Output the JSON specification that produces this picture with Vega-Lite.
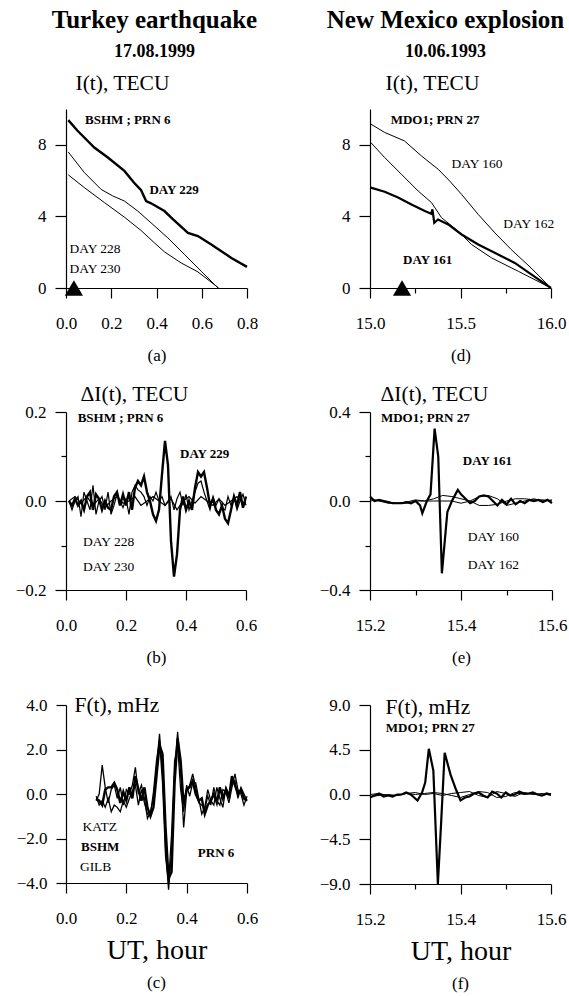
{
"$schema": "https://vega.github.io/schema/vega-lite/v6.json",
"background": "white",
"padding": {"left": 15, "top": 8, "right": 2, "bottom": 2},
"config": {
  "font": "Liberation Serif",
  "view": {"stroke": null},
  "axis": {"grid": false, "domainColor": "black", "tickColor": "black", "labelColor": "black", "titleColor": "black", "labelFont": "Liberation Serif", "labelFontSize": 17, "titleFont": "Liberation Serif", "titleFontSize": 21.5, "titleFontWeight": "normal", "domainWidth": 1.2, "tickWidth": 1.2, "labelFlush": false, "labelOverlap": false},
  "axisX": {"labelPadding": 17, "titlePadding": 10, "labelOverlap": false},
  "axisY": {"labelPadding": 9, "titleAngle": 0, "titleAlign": "left", "titleBaseline": "alphabetic", "labelOverlap": false},
  "text": {"font": "Liberation Serif", "color": "black"},
  "title": {"font": "Liberation Serif", "color": "black", "subtitleColor": "black", "subtitleFont": "Liberation Serif"}
},
"datasets": {
  "a": [
    {"x":0.01,"y":9.38,"s":"229"},{"x":0.05,"y":8.8,"s":"229"},{"x":0.125,"y":7.85,"s":"229"},{"x":0.185,"y":7.29,"s":"229"},{"x":0.258,"y":6.54,"s":"229"},{"x":0.30,"y":5.89,"s":"229"},{"x":0.332,"y":5.46,"s":"229"},{"x":0.354,"y":4.86,"s":"229"},{"x":0.376,"y":4.73,"s":"229"},{"x":0.435,"y":4.30,"s":"229"},{"x":0.465,"y":3.93,"s":"229"},{"x":0.539,"y":3.08,"s":"229"},{"x":0.583,"y":2.90,"s":"229"},{"x":0.642,"y":2.43,"s":"229"},{"x":0.731,"y":1.68,"s":"229"},{"x":0.80,"y":1.18,"s":"229"},
    {"x":0.01,"y":7.6,"s":"228"},{"x":0.081,"y":6.45,"s":"228"},{"x":0.155,"y":5.51,"s":"228"},{"x":0.207,"y":5.14,"s":"228"},{"x":0.258,"y":4.86,"s":"228"},{"x":0.317,"y":4.30,"s":"228"},{"x":0.376,"y":3.64,"s":"228"},{"x":0.45,"y":2.80,"s":"228"},{"x":0.524,"y":1.87,"s":"228"},{"x":0.598,"y":0.93,"s":"228"},{"x":0.672,"y":0.0,"s":"228"},
    {"x":0.01,"y":6.32,"s":"230"},{"x":0.081,"y":5.61,"s":"230"},{"x":0.17,"y":4.77,"s":"230"},{"x":0.258,"y":3.96,"s":"230"},{"x":0.332,"y":3.21,"s":"230"},{"x":0.391,"y":2.52,"s":"230"},{"x":0.435,"y":2.02,"s":"230"},{"x":0.509,"y":1.40,"s":"230"},{"x":0.583,"y":0.90,"s":"230"},{"x":0.675,"y":0.0,"s":"230"}
  ],
  "d": [
    {"x":15.004,"y":9.16,"s":"160"},{"x":15.081,"y":8.69,"s":"160"},{"x":15.19,"y":8.22,"s":"160"},{"x":15.284,"y":7.38,"s":"160"},{"x":15.376,"y":6.64,"s":"160"},{"x":15.44,"y":5.98,"s":"160"},{"x":15.506,"y":5.23,"s":"160"},{"x":15.598,"y":4.11,"s":"160"},{"x":15.69,"y":3.08,"s":"160"},{"x":15.78,"y":2.15,"s":"160"},{"x":15.89,"y":1.12,"s":"160"},{"x":16.0,"y":0,"s":"160"},
    {"x":15.004,"y":8.13,"s":"162"},{"x":15.081,"y":7.29,"s":"162"},{"x":15.173,"y":6.36,"s":"162"},{"x":15.266,"y":5.42,"s":"162"},{"x":15.34,"y":4.77,"s":"162"},{"x":15.395,"y":3.93,"s":"162"},{"x":15.487,"y":3.18,"s":"162"},{"x":15.561,"y":2.43,"s":"162"},{"x":15.672,"y":1.68,"s":"162"},{"x":15.82,"y":0.93,"s":"162"},{"x":16.0,"y":0,"s":"162"},
    {"x":15.004,"y":5.61,"s":"161"},{"x":15.081,"y":5.38,"s":"161"},{"x":15.155,"y":5.05,"s":"161"},{"x":15.229,"y":4.67,"s":"161"},{"x":15.303,"y":4.30,"s":"161"},{"x":15.338,"y":4.15,"s":"161"},{"x":15.345,"y":4.39,"s":"161"},{"x":15.355,"y":3.64,"s":"161"},{"x":15.376,"y":3.83,"s":"161"},{"x":15.432,"y":3.55,"s":"161"},{"x":15.506,"y":2.99,"s":"161"},{"x":15.598,"y":2.43,"s":"161"},{"x":15.708,"y":1.87,"s":"161"},{"x":15.80,"y":1.40,"s":"161"},{"x":15.893,"y":0.75,"s":"161"},{"x":16.0,"y":0,"s":"161"}
  ],
  "b": [
    {"x":0.01,"y":0,"s":"229"},{"x":0.02,"y":-0.01,"s":"229"},{"x":0.03,"y":0.005,"s":"229"},{"x":0.04,"y":-0.01,"s":"229"},{"x":0.05,"y":0,"s":"229"},{"x":0.06,"y":-0.02,"s":"229"},{"x":0.07,"y":0.01,"s":"229"},{"x":0.08,"y":0.02,"s":"229"},{"x":0.09,"y":-0.02,"s":"229"},{"x":0.10,"y":0.015,"s":"229"},
    {"x":0.11,"y":0.005,"s":"229"},{"x":0.12,"y":-0.02,"s":"229"},{"x":0.13,"y":0,"s":"229"},{"x":0.14,"y":-0.015,"s":"229"},{"x":0.15,"y":-0.02,"s":"229"},{"x":0.16,"y":0.01,"s":"229"},{"x":0.17,"y":0.02,"s":"229"},{"x":0.18,"y":-0.01,"s":"229"},{"x":0.19,"y":0.015,"s":"229"},{"x":0.20,"y":-0.01,"s":"229"},
    {"x":0.21,"y":0.02,"s":"229"},{"x":0.22,"y":-0.02,"s":"229"},{"x":0.23,"y":0.03,"s":"229"},{"x":0.24,"y":0.045,"s":"229"},{"x":0.25,"y":0.035,"s":"229"},{"x":0.26,"y":0.055,"s":"229"},{"x":0.27,"y":0.02,"s":"229"},{"x":0.28,"y":0,"s":"229"},{"x":0.29,"y":-0.03,"s":"229"},{"x":0.30,"y":-0.045,"s":"229"},
    {"x":0.31,"y":-0.02,"s":"229"},{"x":0.32,"y":0.06,"s":"229"},{"x":0.33,"y":0.135,"s":"229"},{"x":0.34,"y":0.08,"s":"229"},{"x":0.35,"y":-0.09,"s":"229"},{"x":0.36,"y":-0.17,"s":"229"},{"x":0.37,"y":-0.12,"s":"229"},{"x":0.38,"y":-0.02,"s":"229"},{"x":0.39,"y":0.01,"s":"229"},{"x":0.40,"y":-0.02,"s":"229"},
    {"x":0.41,"y":0,"s":"229"},{"x":0.42,"y":-0.02,"s":"229"},{"x":0.43,"y":0.03,"s":"229"},{"x":0.44,"y":0.065,"s":"229"},{"x":0.45,"y":0.055,"s":"229"},{"x":0.46,"y":0.065,"s":"229"},{"x":0.47,"y":0.03,"s":"229"},{"x":0.48,"y":-0.01,"s":"229"},{"x":0.49,"y":0.005,"s":"229"},{"x":0.50,"y":-0.02,"s":"229"},
    {"x":0.51,"y":-0.03,"s":"229"},{"x":0.52,"y":-0.01,"s":"229"},{"x":0.53,"y":-0.04,"s":"229"},{"x":0.54,"y":-0.05,"s":"229"},{"x":0.55,"y":-0.02,"s":"229"},{"x":0.56,"y":0.01,"s":"229"},{"x":0.57,"y":-0.01,"s":"229"},{"x":0.58,"y":0.02,"s":"229"},{"x":0.59,"y":-0.015,"s":"229"},{"x":0.60,"y":0.01,"s":"229"},
    {"x":0.01,"y":0,"s":"228"},{"x":0.02,"y":-0.02,"s":"228"},{"x":0.03,"y":0,"s":"228"},{"x":0.04,"y":0.01,"s":"228"},{"x":0.05,"y":-0.035,"s":"228"},{"x":0.06,"y":0.02,"s":"228"},{"x":0.07,"y":0,"s":"228"},{"x":0.08,"y":-0.02,"s":"228"},{"x":0.09,"y":0.035,"s":"228"},{"x":0.10,"y":-0.03,"s":"228"},
    {"x":0.11,"y":0,"s":"228"},{"x":0.12,"y":0.01,"s":"228"},{"x":0.13,"y":-0.02,"s":"228"},{"x":0.14,"y":0.02,"s":"228"},{"x":0.15,"y":-0.03,"s":"228"},{"x":0.16,"y":-0.01,"s":"228"},{"x":0.17,"y":0.015,"s":"228"},{"x":0.18,"y":0,"s":"228"},{"x":0.19,"y":-0.015,"s":"228"},{"x":0.20,"y":0.005,"s":"228"},
    {"x":0.21,"y":-0.03,"s":"228"},{"x":0.22,"y":0.02,"s":"228"},{"x":0.23,"y":0.035,"s":"228"},{"x":0.24,"y":0.025,"s":"228"},{"x":0.25,"y":0.02,"s":"228"},{"x":0.26,"y":0.01,"s":"228"},{"x":0.27,"y":-0.01,"s":"228"},{"x":0.28,"y":0.01,"s":"228"},{"x":0.29,"y":0,"s":"228"},{"x":0.30,"y":0.02,"s":"228"},
    {"x":0.31,"y":0,"s":"228"},{"x":0.32,"y":0.01,"s":"228"},{"x":0.33,"y":-0.01,"s":"228"},{"x":0.34,"y":0,"s":"228"},{"x":0.35,"y":0.01,"s":"228"},{"x":0.36,"y":-0.02,"s":"228"},{"x":0.37,"y":0.005,"s":"228"},{"x":0.38,"y":0.02,"s":"228"},{"x":0.39,"y":-0.01,"s":"228"},{"x":0.40,"y":0.015,"s":"228"},
    {"x":0.41,"y":-0.02,"s":"228"},{"x":0.42,"y":0,"s":"228"},{"x":0.43,"y":0.02,"s":"228"},{"x":0.44,"y":0.04,"s":"228"},{"x":0.45,"y":0.045,"s":"228"},{"x":0.46,"y":0.02,"s":"228"},{"x":0.47,"y":0,"s":"228"},{"x":0.48,"y":-0.02,"s":"228"},{"x":0.49,"y":0.01,"s":"228"},{"x":0.50,"y":-0.01,"s":"228"},
    {"x":0.51,"y":0.005,"s":"228"},{"x":0.52,"y":-0.015,"s":"228"},{"x":0.53,"y":-0.02,"s":"228"},{"x":0.54,"y":0.01,"s":"228"},{"x":0.55,"y":-0.01,"s":"228"},{"x":0.56,"y":0.01,"s":"228"},{"x":0.57,"y":-0.02,"s":"228"},{"x":0.58,"y":0,"s":"228"},{"x":0.59,"y":0.015,"s":"228"},{"x":0.60,"y":-0.01,"s":"228"},
    {"x":0.01,"y":0,"s":"230"},{"x":0.03,"y":0.01,"s":"230"},{"x":0.05,"y":-0.005,"s":"230"},{"x":0.07,"y":0.01,"s":"230"},{"x":0.09,"y":-0.01,"s":"230"},{"x":0.11,"y":0.005,"s":"230"},{"x":0.13,"y":-0.015,"s":"230"},{"x":0.15,"y":0,"s":"230"},{"x":0.17,"y":0.01,"s":"230"},{"x":0.19,"y":-0.005,"s":"230"},
    {"x":0.21,"y":0,"s":"230"},{"x":0.23,"y":0.01,"s":"230"},{"x":0.25,"y":-0.01,"s":"230"},{"x":0.27,"y":0,"s":"230"},{"x":0.29,"y":0.01,"s":"230"},{"x":0.31,"y":0,"s":"230"},{"x":0.33,"y":-0.01,"s":"230"},{"x":0.35,"y":0.005,"s":"230"},{"x":0.37,"y":-0.02,"s":"230"},{"x":0.39,"y":0,"s":"230"},
    {"x":0.41,"y":0.01,"s":"230"},{"x":0.43,"y":-0.005,"s":"230"},{"x":0.45,"y":0.01,"s":"230"},{"x":0.47,"y":0,"s":"230"},{"x":0.49,"y":-0.01,"s":"230"},{"x":0.51,"y":0.005,"s":"230"},{"x":0.53,"y":-0.01,"s":"230"},{"x":0.55,"y":0,"s":"230"},{"x":0.57,"y":0.01,"s":"230"},{"x":0.59,"y":-0.005,"s":"230"}
  ],
  "e": [
    {"x":15.20,"y":0.02,"s":"161"},{"x":15.21,"y":0,"s":"161"},{"x":15.22,"y":0.005,"s":"161"},{"x":15.23,"y":0,"s":"161"},{"x":15.24,"y":-0.005,"s":"161"},{"x":15.25,"y":-0.01,"s":"161"},{"x":15.26,"y":-0.01,"s":"161"},{"x":15.27,"y":-0.01,"s":"161"},{"x":15.28,"y":-0.005,"s":"161"},{"x":15.29,"y":-0.01,"s":"161"},{"x":15.30,"y":0,"s":"161"},{"x":15.31,"y":-0.02,"s":"161"},{"x":15.315,"y":-0.055,"s":"161"},{"x":15.325,"y":0,"s":"161"},{"x":15.333,"y":0.03,"s":"161"},{"x":15.342,"y":0.325,"s":"161"},{"x":15.35,"y":0.2,"s":"161"},{"x":15.358,"y":-0.325,"s":"161"},{"x":15.37,"y":-0.05,"s":"161"},{"x":15.38,"y":0,"s":"161"},{"x":15.393,"y":0.05,"s":"161"},{"x":15.40,"y":0.03,"s":"161"},{"x":15.41,"y":0.01,"s":"161"},{"x":15.42,"y":-0.01,"s":"161"},{"x":15.43,"y":0,"s":"161"},{"x":15.44,"y":0.02,"s":"161"},{"x":15.45,"y":0.025,"s":"161"},{"x":15.46,"y":0.02,"s":"161"},{"x":15.47,"y":0,"s":"161"},{"x":15.48,"y":-0.02,"s":"161"},{"x":15.49,"y":0.005,"s":"161"},{"x":15.50,"y":-0.015,"s":"161"},{"x":15.51,"y":0.01,"s":"161"},{"x":15.52,"y":-0.015,"s":"161"},{"x":15.53,"y":0,"s":"161"},{"x":15.54,"y":-0.01,"s":"161"},{"x":15.55,"y":0.005,"s":"161"},{"x":15.56,"y":0,"s":"161"},{"x":15.57,"y":0.005,"s":"161"},{"x":15.58,"y":-0.005,"s":"161"},{"x":15.59,"y":0.005,"s":"161"},{"x":15.60,"y":-0.01,"s":"161"},
    {"x":15.20,"y":0,"s":"160"},{"x":15.22,"y":0.005,"s":"160"},{"x":15.24,"y":-0.005,"s":"160"},{"x":15.26,"y":-0.01,"s":"160"},{"x":15.28,"y":-0.01,"s":"160"},{"x":15.30,"y":0,"s":"160"},{"x":15.32,"y":0,"s":"160"},{"x":15.34,"y":0.01,"s":"160"},{"x":15.36,"y":0.025,"s":"160"},{"x":15.38,"y":0.02,"s":"160"},{"x":15.40,"y":0.01,"s":"160"},{"x":15.42,"y":0,"s":"160"},{"x":15.44,"y":-0.02,"s":"160"},{"x":15.46,"y":-0.02,"s":"160"},{"x":15.48,"y":-0.015,"s":"160"},{"x":15.50,"y":0,"s":"160"},{"x":15.52,"y":0.01,"s":"160"},{"x":15.54,"y":0.01,"s":"160"},{"x":15.56,"y":0.005,"s":"160"},{"x":15.58,"y":0.005,"s":"160"},{"x":15.60,"y":0,"s":"160"},
    {"x":15.20,"y":0.01,"s":"162"},{"x":15.22,"y":0,"s":"162"},{"x":15.24,"y":-0.01,"s":"162"},{"x":15.26,"y":-0.01,"s":"162"},{"x":15.28,"y":-0.005,"s":"162"},{"x":15.30,"y":0.005,"s":"162"},{"x":15.32,"y":0,"s":"162"},{"x":15.34,"y":0,"s":"162"},{"x":15.36,"y":0,"s":"162"},{"x":15.38,"y":0,"s":"162"},{"x":15.40,"y":-0.01,"s":"162"},{"x":15.42,"y":0,"s":"162"},{"x":15.44,"y":0.02,"s":"162"},{"x":15.46,"y":0.025,"s":"162"},{"x":15.48,"y":0.01,"s":"162"},{"x":15.50,"y":-0.02,"s":"162"},{"x":15.52,"y":-0.01,"s":"162"},{"x":15.54,"y":0,"s":"162"},{"x":15.56,"y":0.01,"s":"162"},{"x":15.58,"y":0,"s":"162"},{"x":15.60,"y":0.005,"s":"162"}
  ],
  "c": [
    {"x":0.10,"y":-0.2,"s":"BSHM"},{"x":0.11,"y":-0.3,"s":"BSHM"},{"x":0.12,"y":-0.5,"s":"BSHM"},{"x":0.13,"y":0.2,"s":"BSHM"},{"x":0.14,"y":0.3,"s":"BSHM"},{"x":0.15,"y":0.3,"s":"BSHM"},{"x":0.16,"y":0.5,"s":"BSHM"},{"x":0.17,"y":0.2,"s":"BSHM"},{"x":0.18,"y":-0.4,"s":"BSHM"},{"x":0.19,"y":0.1,"s":"BSHM"},
    {"x":0.20,"y":-0.3,"s":"BSHM"},{"x":0.21,"y":0.3,"s":"BSHM"},{"x":0.22,"y":-0.2,"s":"BSHM"},{"x":0.23,"y":0.8,"s":"BSHM"},{"x":0.24,"y":0.2,"s":"BSHM"},{"x":0.25,"y":-0.3,"s":"BSHM"},{"x":0.26,"y":0.3,"s":"BSHM"},{"x":0.27,"y":-0.6,"s":"BSHM"},{"x":0.28,"y":-1.0,"s":"BSHM"},{"x":0.29,"y":-0.6,"s":"BSHM"},
    {"x":0.30,"y":0.8,"s":"BSHM"},{"x":0.31,"y":2.2,"s":"BSHM"},{"x":0.32,"y":1.8,"s":"BSHM"},{"x":0.33,"y":-1.5,"s":"BSHM"},{"x":0.34,"y":-3.8,"s":"BSHM"},{"x":0.35,"y":-3.5,"s":"BSHM"},{"x":0.36,"y":0.5,"s":"BSHM"},{"x":0.37,"y":2.5,"s":"BSHM"},{"x":0.38,"y":1.5,"s":"BSHM"},{"x":0.39,"y":-0.5,"s":"BSHM"},
    {"x":0.40,"y":0.2,"s":"BSHM"},{"x":0.41,"y":0.3,"s":"BSHM"},{"x":0.42,"y":0.6,"s":"BSHM"},{"x":0.43,"y":0.0,"s":"BSHM"},{"x":0.44,"y":-0.3,"s":"BSHM"},{"x":0.45,"y":-0.2,"s":"BSHM"},{"x":0.46,"y":-0.9,"s":"BSHM"},{"x":0.47,"y":-0.5,"s":"BSHM"},{"x":0.48,"y":-0.3,"s":"BSHM"},{"x":0.49,"y":0.0,"s":"BSHM"},
    {"x":0.50,"y":-0.4,"s":"BSHM"},{"x":0.51,"y":0.3,"s":"BSHM"},{"x":0.52,"y":-0.2,"s":"BSHM"},{"x":0.53,"y":0.2,"s":"BSHM"},{"x":0.54,"y":-0.2,"s":"BSHM"},{"x":0.55,"y":0.8,"s":"BSHM"},{"x":0.56,"y":0.4,"s":"BSHM"},{"x":0.57,"y":0.0,"s":"BSHM"},{"x":0.58,"y":0.2,"s":"BSHM"},{"x":0.59,"y":-0.2,"s":"BSHM"},{"x":0.60,"y":-0.3,"s":"BSHM"},
    {"x":0.10,"y":-0.3,"s":"KATZ"},{"x":0.11,"y":0.0,"s":"KATZ"},{"x":0.12,"y":1.3,"s":"KATZ"},{"x":0.13,"y":0.3,"s":"KATZ"},{"x":0.14,"y":-0.4,"s":"KATZ"},{"x":0.15,"y":0.2,"s":"KATZ"},{"x":0.16,"y":0.4,"s":"KATZ"},{"x":0.17,"y":-0.2,"s":"KATZ"},{"x":0.18,"y":0.3,"s":"KATZ"},{"x":0.19,"y":-0.5,"s":"KATZ"},
    {"x":0.20,"y":0.2,"s":"KATZ"},{"x":0.21,"y":0.0,"s":"KATZ"},{"x":0.22,"y":0.4,"s":"KATZ"},{"x":0.23,"y":1.2,"s":"KATZ"},{"x":0.24,"y":0.0,"s":"KATZ"},{"x":0.25,"y":0.4,"s":"KATZ"},{"x":0.26,"y":-0.2,"s":"KATZ"},{"x":0.27,"y":-1.1,"s":"KATZ"},{"x":0.28,"y":-0.8,"s":"KATZ"},{"x":0.29,"y":-0.2,"s":"KATZ"},
    {"x":0.30,"y":1.2,"s":"KATZ"},{"x":0.31,"y":2.7,"s":"KATZ"},{"x":0.32,"y":1.0,"s":"KATZ"},{"x":0.33,"y":-2.5,"s":"KATZ"},{"x":0.34,"y":-4.3,"s":"KATZ"},{"x":0.35,"y":-2.6,"s":"KATZ"},{"x":0.36,"y":1.0,"s":"KATZ"},{"x":0.37,"y":2.8,"s":"KATZ"},{"x":0.38,"y":1.0,"s":"KATZ"},{"x":0.39,"y":-1.5,"s":"KATZ"},
    {"x":0.40,"y":0.1,"s":"KATZ"},{"x":0.41,"y":0.4,"s":"KATZ"},{"x":0.42,"y":0.9,"s":"KATZ"},{"x":0.43,"y":0.3,"s":"KATZ"},{"x":0.44,"y":-0.4,"s":"KATZ"},{"x":0.45,"y":-0.5,"s":"KATZ"},{"x":0.46,"y":-0.7,"s":"KATZ"},{"x":0.47,"y":-0.1,"s":"KATZ"},{"x":0.48,"y":-0.5,"s":"KATZ"},{"x":0.49,"y":0.3,"s":"KATZ"},
    {"x":0.50,"y":-0.3,"s":"KATZ"},{"x":0.51,"y":-0.5,"s":"KATZ"},{"x":0.52,"y":0.2,"s":"KATZ"},{"x":0.53,"y":0.1,"s":"KATZ"},{"x":0.54,"y":-0.4,"s":"KATZ"},{"x":0.55,"y":0.3,"s":"KATZ"},{"x":0.56,"y":0.9,"s":"KATZ"},{"x":0.57,"y":0.2,"s":"KATZ"},{"x":0.58,"y":0.0,"s":"KATZ"},{"x":0.59,"y":-0.5,"s":"KATZ"},{"x":0.60,"y":-0.1,"s":"KATZ"},
    {"x":0.10,"y":-0.1,"s":"GILB"},{"x":0.11,"y":-0.5,"s":"GILB"},{"x":0.12,"y":-0.3,"s":"GILB"},{"x":0.13,"y":-0.6,"s":"GILB"},{"x":0.14,"y":-0.2,"s":"GILB"},{"x":0.15,"y":-0.8,"s":"GILB"},{"x":0.16,"y":-0.5,"s":"GILB"},{"x":0.17,"y":-0.6,"s":"GILB"},{"x":0.18,"y":-0.8,"s":"GILB"},{"x":0.19,"y":-0.3,"s":"GILB"},
    {"x":0.20,"y":-0.6,"s":"GILB"},{"x":0.21,"y":-0.2,"s":"GILB"},{"x":0.22,"y":0.1,"s":"GILB"},{"x":0.23,"y":0.4,"s":"GILB"},{"x":0.24,"y":-0.5,"s":"GILB"},{"x":0.25,"y":0.2,"s":"GILB"},{"x":0.26,"y":-0.4,"s":"GILB"},{"x":0.27,"y":-0.9,"s":"GILB"},{"x":0.28,"y":-0.9,"s":"GILB"},{"x":0.29,"y":0.1,"s":"GILB"},
    {"x":0.30,"y":1.5,"s":"GILB"},{"x":0.31,"y":2.4,"s":"GILB"},{"x":0.32,"y":0.5,"s":"GILB"},{"x":0.33,"y":-2.8,"s":"GILB"},{"x":0.34,"y":-4.0,"s":"GILB"},{"x":0.35,"y":-1.8,"s":"GILB"},{"x":0.36,"y":1.5,"s":"GILB"},{"x":0.37,"y":2.2,"s":"GILB"},{"x":0.38,"y":0.2,"s":"GILB"},{"x":0.39,"y":-0.8,"s":"GILB"},
    {"x":0.40,"y":0.4,"s":"GILB"},{"x":0.41,"y":-0.1,"s":"GILB"},{"x":0.42,"y":0.5,"s":"GILB"},{"x":0.43,"y":0.5,"s":"GILB"},{"x":0.44,"y":-0.2,"s":"GILB"},{"x":0.45,"y":-0.9,"s":"GILB"},{"x":0.46,"y":-0.6,"s":"GILB"},{"x":0.47,"y":0.2,"s":"GILB"},{"x":0.48,"y":-0.3,"s":"GILB"},{"x":0.49,"y":-0.5,"s":"GILB"},
    {"x":0.50,"y":0.3,"s":"GILB"},{"x":0.51,"y":-0.2,"s":"GILB"},{"x":0.52,"y":-0.6,"s":"GILB"},{"x":0.53,"y":0.3,"s":"GILB"},{"x":0.54,"y":0.0,"s":"GILB"},{"x":0.55,"y":0.5,"s":"GILB"},{"x":0.56,"y":0.6,"s":"GILB"},{"x":0.57,"y":-0.2,"s":"GILB"},{"x":0.58,"y":0.3,"s":"GILB"},{"x":0.59,"y":0.0,"s":"GILB"},{"x":0.60,"y":-0.3,"s":"GILB"}
  ],
  "f": [
    {"x":15.20,"y":-0.3,"s":"161"},{"x":15.21,"y":-0.1,"s":"161"},{"x":15.22,"y":0.1,"s":"161"},{"x":15.23,"y":-0.2,"s":"161"},{"x":15.24,"y":-0.1,"s":"161"},{"x":15.25,"y":-0.2,"s":"161"},{"x":15.26,"y":0.0,"s":"161"},{"x":15.27,"y":0.0,"s":"161"},{"x":15.28,"y":0.2,"s":"161"},{"x":15.29,"y":0.0,"s":"161"},{"x":15.30,"y":-0.4,"s":"161"},{"x":15.305,"y":-0.6,"s":"161"},{"x":15.315,"y":0.2,"s":"161"},{"x":15.322,"y":1.2,"s":"161"},{"x":15.33,"y":4.6,"s":"161"},{"x":15.34,"y":2.4,"s":"161"},{"x":15.35,"y":-9.0,"s":"161"},{"x":15.357,"y":-3.0,"s":"161"},{"x":15.365,"y":4.2,"s":"161"},{"x":15.378,"y":2.0,"s":"161"},{"x":15.39,"y":0.5,"s":"161"},{"x":15.40,"y":-0.6,"s":"161"},{"x":15.41,"y":-0.3,"s":"161"},{"x":15.42,"y":-0.2,"s":"161"},{"x":15.43,"y":0.1,"s":"161"},{"x":15.44,"y":0.2,"s":"161"},{"x":15.45,"y":-0.1,"s":"161"},{"x":15.46,"y":-0.3,"s":"161"},{"x":15.47,"y":0.3,"s":"161"},{"x":15.48,"y":0.1,"s":"161"},{"x":15.49,"y":-0.3,"s":"161"},{"x":15.50,"y":0.2,"s":"161"},{"x":15.51,"y":-0.1,"s":"161"},{"x":15.52,"y":0.0,"s":"161"},{"x":15.53,"y":0.3,"s":"161"},{"x":15.54,"y":0.1,"s":"161"},{"x":15.55,"y":0.1,"s":"161"},{"x":15.56,"y":0.2,"s":"161"},{"x":15.57,"y":0.0,"s":"161"},{"x":15.58,"y":-0.1,"s":"161"},{"x":15.59,"y":0.1,"s":"161"},{"x":15.60,"y":0.0,"s":"161"},
    {"x":15.20,"y":0.0,"s":"160"},{"x":15.22,"y":0.1,"s":"160"},{"x":15.24,"y":-0.1,"s":"160"},{"x":15.26,"y":-0.1,"s":"160"},{"x":15.28,"y":0.1,"s":"160"},{"x":15.30,"y":0.0,"s":"160"},{"x":15.32,"y":0.1,"s":"160"},{"x":15.34,"y":0.2,"s":"160"},{"x":15.36,"y":0.1,"s":"160"},{"x":15.38,"y":-0.1,"s":"160"},{"x":15.40,"y":-0.3,"s":"160"},{"x":15.42,"y":0.0,"s":"160"},{"x":15.44,"y":0.3,"s":"160"},{"x":15.46,"y":0.2,"s":"160"},{"x":15.48,"y":-0.3,"s":"160"},{"x":15.50,"y":-0.2,"s":"160"},{"x":15.52,"y":0.2,"s":"160"},{"x":15.54,"y":0.0,"s":"160"},{"x":15.56,"y":0.1,"s":"160"},{"x":15.58,"y":-0.1,"s":"160"},{"x":15.60,"y":0.1,"s":"160"},
    {"x":15.20,"y":-0.2,"s":"162"},{"x":15.22,"y":-0.1,"s":"162"},{"x":15.24,"y":0.0,"s":"162"},{"x":15.26,"y":-0.1,"s":"162"},{"x":15.28,"y":0.1,"s":"162"},{"x":15.30,"y":0.2,"s":"162"},{"x":15.32,"y":0.0,"s":"162"},{"x":15.34,"y":0.1,"s":"162"},{"x":15.36,"y":-0.1,"s":"162"},{"x":15.38,"y":0.1,"s":"162"},{"x":15.40,"y":0.2,"s":"162"},{"x":15.42,"y":0.3,"s":"162"},{"x":15.44,"y":-0.1,"s":"162"},{"x":15.46,"y":-0.3,"s":"162"},{"x":15.48,"y":0.3,"s":"162"},{"x":15.50,"y":0.1,"s":"162"},{"x":15.52,"y":-0.2,"s":"162"},{"x":15.54,"y":0.2,"s":"162"},{"x":15.56,"y":0.0,"s":"162"},{"x":15.58,"y":0.1,"s":"162"},{"x":15.60,"y":-0.1,"s":"162"}
  ]
},
"hconcat": [
  {
    "spacing": 124, "bounds": "flush",
    "vconcat": [
      {
        "width": 181, "height": 179,
        "title": {"text": "Turkey earthquake", "subtitle": "17.08.1999", "fontSize": 25, "fontWeight": "bold", "subtitleFontSize": 18, "subtitleFontWeight": "bold", "subtitlePadding": 10, "anchor": "middle", "frame": "group", "dx": -2, "offset": 11},
        "layer": [
          {"data": {"name": "a"}, "mark": {"type": "line", "color": "black"},
           "encoding": {
             "x": {"field": "x", "type": "quantitative", "scale": {"domain": [0, 0.8], "nice": false, "zero": false},
                   "axis": {"values": [0,0.1,0.2,0.3,0.4,0.5,0.6,0.7,0.8], "labelOverlap": false, "labelExpr": "round(datum.value*10)%2==0 ? format(datum.value,'.1f') : ''", "tickSize": {"condition": {"test": "round(datum.value*10)%2==0", "value": 10}, "value": 5}, "title": "(a)", "titleFontSize": 17, "titlePadding": 16}},
             "y": {"field": "y", "type": "quantitative", "scale": {"domain": [0, 10], "nice": false, "zero": false},
                   "axis": {"values": [0,1,2,3,4,5,6,7,8,9,10], "labelOverlap": false, "labelExpr": "round(datum.value)%2==0 ? format(datum.value,'d') : ''", "tickSize": {"condition": {"test": "round(datum.value)%2==0", "value": 11}, "value": 5}, "title": "I(t), TECU", "titleX": 9, "titleY": -20}},
             "detail": {"field": "s", "type": "nominal"},
             "strokeWidth": {"condition": {"test": "datum.s == '229'", "value": 2.4}, "value": 1}}},
          {"data": {"values": [{"x": 0.035, "y": 0}]}, "mark": {"type": "point", "shape": "triangle-up", "filled": true, "color": "black", "opacity": 1, "size": 330},
           "encoding": {"x": {"field": "x", "type": "quantitative"}, "y": {"field": "y", "type": "quantitative"}}},
          {"data": {"values": [{"x": 0.084, "y": 9.38, "t": "BSHM ; PRN 6"}, {"x": 0.369, "y": 5.46, "t": "DAY 229"}]}, "mark": {"type": "text", "align": "left", "baseline": "middle", "fontWeight": "bold", "fontSize": 13},
           "encoding": {"x": {"field": "x", "type": "quantitative"}, "y": {"field": "y", "type": "quantitative"}, "text": {"field": "t"}}},
          {"data": {"values": [{"x": 0.015, "y": 2.2, "t": "DAY 228"}, {"x": 0.015, "y": 1.08, "t": "DAY 230"}]}, "mark": {"type": "text", "align": "left", "baseline": "middle", "fontSize": 13.5},
           "encoding": {"x": {"field": "x", "type": "quantitative"}, "y": {"field": "y", "type": "quantitative"}, "text": {"field": "t"}}}
        ]
      },
      {
        "spacing": 115, "bounds": "flush",
        "vconcat": [
          {
            "width": 180, "height": 178,
            "layer": [
              {"data": {"name": "b"}, "mark": {"type": "line", "color": "black"},
               "encoding": {
                 "x": {"field": "x", "type": "quantitative", "scale": {"domain": [0, 0.6], "nice": false, "zero": false},
                       "axis": {"values": [0,0.1,0.2,0.3,0.4,0.5,0.6], "labelOverlap": false, "labelExpr": "round(datum.value*10)%2==0 ? format(datum.value,'.1f') : ''", "tickSize": {"condition": {"test": "round(datum.value*10)%2==0", "value": 10}, "value": 5}, "title": "(b)", "titleFontSize": 17, "titlePadding": 16}},
                 "y": {"field": "y", "type": "quantitative", "scale": {"domain": [-0.2, 0.2], "nice": false, "zero": false},
                       "axis": {"values": [-0.2,-0.1,0,0.1,0.2], "labelOverlap": false, "labelExpr": "round(datum.value*10)%2==0 ? format(datum.value,'.1f') : ''", "tickSize": {"condition": {"test": "round(datum.value*10)%2==0", "value": 11}, "value": 5}, "title": "ΔI(t), TECU", "titleX": 14, "titleY": -12}},
                 "detail": {"field": "s", "type": "nominal"},
                 "strokeWidth": {"condition": {"test": "datum.s == '229'", "value": 2.4}, "value": 1.2}}},
              {"data": {"values": [{"x": 0.039, "y": 0.187, "t": "BSHM ; PRN 6"}, {"x": 0.38, "y": 0.106, "t": "DAY 229"}]}, "mark": {"type": "text", "align": "left", "baseline": "middle", "fontWeight": "bold", "fontSize": 13},
               "encoding": {"x": {"field": "x", "type": "quantitative"}, "y": {"field": "y", "type": "quantitative"}, "text": {"field": "t"}}},
              {"data": {"values": [{"x": 0.057, "y": -0.093, "t": "DAY 228"}, {"x": 0.057, "y": -0.149, "t": "DAY 230"}]}, "mark": {"type": "text", "align": "left", "baseline": "middle", "fontSize": 13.5},
               "encoding": {"x": {"field": "x", "type": "quantitative"}, "y": {"field": "y", "type": "quantitative"}, "text": {"field": "t"}}}
            ]
          },
          {
            "width": 181, "height": 178,
            "title": {"text": "(c)", "orient": "bottom", "fontSize": 17, "fontWeight": "normal", "offset": 11},
            "layer": [
              {"data": {"name": "c"}, "mark": {"type": "line", "color": "black"},
               "encoding": {
                 "x": {"field": "x", "type": "quantitative", "scale": {"domain": [0, 0.6], "nice": false, "zero": false},
                       "axis": {"values": [0,0.1,0.2,0.3,0.4,0.5,0.6], "labelOverlap": false, "labelExpr": "round(datum.value*10)%2==0 ? format(datum.value,'.1f') : ''", "tickSize": {"condition": {"test": "round(datum.value*10)%2==0", "value": 10}, "value": 5}, "title": "UT, hour", "titleFontSize": 28}},
                 "y": {"field": "y", "type": "quantitative", "scale": {"domain": [-4, 4], "nice": false, "zero": false},
                       "axis": {"values": [-4,-3,-2,-1,0,1,2,3,4], "labelOverlap": false, "labelExpr": "round(datum.value)%2==0 ? format(datum.value,'.1f') : ''", "tickSize": {"condition": {"test": "round(datum.value)%2==0", "value": 10}, "value": 4}, "title": "F(t), mHz", "titleX": 8, "titleY": 6}},
                 "detail": {"field": "s", "type": "nominal"},
                 "strokeWidth": {"condition": {"test": "datum.s == 'BSHM'", "value": 2.4}, "value": 1.3}}},
              {"data": {"values": [{"x": 0.05, "y": -2.39, "t": "BSHM"}, {"x": 0.437, "y": -2.66, "t": "PRN 6"}]}, "mark": {"type": "text", "align": "left", "baseline": "middle", "fontWeight": "bold", "fontSize": 13},
               "encoding": {"x": {"field": "x", "type": "quantitative"}, "y": {"field": "y", "type": "quantitative"}, "text": {"field": "t"}}},
              {"data": {"values": [{"x": 0.055, "y": -1.49, "t": "KATZ"}, {"x": 0.046, "y": -3.28, "t": "GILB"}]}, "mark": {"type": "text", "align": "left", "baseline": "middle", "fontSize": 13.5},
               "encoding": {"x": {"field": "x", "type": "quantitative"}, "y": {"field": "y", "type": "quantitative"}, "text": {"field": "t"}}}
            ]
          }
        ]
      }
    ]
  },
  {
    "spacing": 124, "bounds": "flush",
    "vconcat": [
      {
        "width": 181, "height": 179,
        "title": {"text": "New Mexico explosion", "subtitle": "10.06.1993", "fontSize": 25, "fontWeight": "bold", "subtitleFontSize": 18, "subtitleFontWeight": "bold", "subtitlePadding": 10, "anchor": "middle", "frame": "group", "dx": -15, "offset": 11},
        "layer": [
          {"data": {"name": "d"}, "mark": {"type": "line", "color": "black"},
           "encoding": {
             "x": {"field": "x", "type": "quantitative", "scale": {"domain": [15, 16], "nice": false, "zero": false},
                   "axis": {"values": [15,15.25,15.5,15.75,16], "labelOverlap": false, "labelExpr": "round(datum.value*4)%2==0 ? format(datum.value,'.1f') : ''", "tickSize": {"condition": {"test": "round(datum.value*4)%2==0", "value": 10}, "value": 5}, "title": "(d)", "titleFontSize": 17, "titlePadding": 16}},
             "y": {"field": "y", "type": "quantitative", "scale": {"domain": [0, 10], "nice": false, "zero": false},
                   "axis": {"values": [0,1,2,3,4,5,6,7,8,9,10], "labelOverlap": false, "labelExpr": "round(datum.value)%2==0 ? format(datum.value,'d') : ''", "tickSize": {"condition": {"test": "round(datum.value)%2==0", "value": 11}, "value": 5}, "title": "I(t), TECU", "titleX": 15, "titleY": -20}},
             "detail": {"field": "s", "type": "nominal"},
             "strokeWidth": {"condition": {"test": "datum.s == '161'", "value": 2.2}, "value": 1}}},
          {"data": {"values": [{"x": 15.177, "y": 0}]}, "mark": {"type": "point", "shape": "triangle-up", "filled": true, "color": "black", "opacity": 1, "size": 330},
           "encoding": {"x": {"field": "x", "type": "quantitative"}, "y": {"field": "y", "type": "quantitative"}}},
          {"data": {"values": [{"x": 15.114, "y": 9.38, "t": "MDO1; PRN 27"}, {"x": 15.183, "y": 1.59, "t": "DAY 161"}]}, "mark": {"type": "text", "align": "left", "baseline": "middle", "fontWeight": "bold", "fontSize": 13},
           "encoding": {"x": {"field": "x", "type": "quantitative"}, "y": {"field": "y", "type": "quantitative"}, "text": {"field": "t"}}},
          {"data": {"values": [{"x": 15.45, "y": 6.92, "t": "DAY 160"}, {"x": 15.736, "y": 3.59, "t": "DAY 162"}]}, "mark": {"type": "text", "align": "left", "baseline": "middle", "fontSize": 13.5},
           "encoding": {"x": {"field": "x", "type": "quantitative"}, "y": {"field": "y", "type": "quantitative"}, "text": {"field": "t"}}}
        ]
      },
      {
        "spacing": 115, "bounds": "flush",
        "vconcat": [
          {
            "width": 182, "height": 178,
            "layer": [
              {"data": {"name": "e"}, "mark": {"type": "line", "color": "black"},
               "encoding": {
                 "x": {"field": "x", "type": "quantitative", "scale": {"domain": [15.2, 15.6], "nice": false, "zero": false},
                       "axis": {"values": [15.2,15.3,15.4,15.5,15.6], "labelOverlap": false, "labelExpr": "round(datum.value*10)%2==0 ? format(datum.value,'.1f') : ''", "tickSize": {"condition": {"test": "round(datum.value*10)%2==0", "value": 10}, "value": 5}, "title": "(e)", "titleFontSize": 17, "titlePadding": 16}},
                 "y": {"field": "y", "type": "quantitative", "scale": {"domain": [-0.4, 0.4], "nice": false, "zero": false},
                       "axis": {"values": [-0.4,-0.2,0,0.2,0.4], "labelOverlap": false, "labelExpr": "round(datum.value*10)%4==0 ? format(datum.value,'.1f') : ''", "tickSize": {"condition": {"test": "round(datum.value*10)%4==0", "value": 11}, "value": 5}, "title": "ΔI(t), TECU", "titleX": 10, "titleY": -12}},
                 "detail": {"field": "s", "type": "nominal"},
                 "strokeWidth": {"condition": {"test": "datum.s == '161'", "value": 2.2}, "value": 1}}},
              {"data": {"values": [{"x": 15.224, "y": 0.373, "t": "MDO1; PRN 27"}, {"x": 15.404, "y": 0.179, "t": "DAY 161"}]}, "mark": {"type": "text", "align": "left", "baseline": "middle", "fontWeight": "bold", "fontSize": 13},
               "encoding": {"x": {"field": "x", "type": "quantitative"}, "y": {"field": "y", "type": "quantitative"}, "text": {"field": "t"}}},
              {"data": {"values": [{"x": 15.415, "y": -0.164, "t": "DAY 160"}, {"x": 15.415, "y": -0.287, "t": "DAY 162"}]}, "mark": {"type": "text", "align": "left", "baseline": "middle", "fontSize": 13.5},
               "encoding": {"x": {"field": "x", "type": "quantitative"}, "y": {"field": "y", "type": "quantitative"}, "text": {"field": "t"}}}
            ]
          },
          {
            "width": 181, "height": 179,
            "title": {"text": "(f)", "orient": "bottom", "fontSize": 17, "fontWeight": "normal", "offset": 11},
            "layer": [
              {"data": {"name": "f"}, "mark": {"type": "line", "color": "black"},
               "encoding": {
                 "x": {"field": "x", "type": "quantitative", "scale": {"domain": [15.2, 15.6], "nice": false, "zero": false},
                       "axis": {"values": [15.2,15.3,15.4,15.5,15.6], "labelOverlap": false, "labelExpr": "round(datum.value*10)%2==0 ? format(datum.value,'.1f') : ''", "tickSize": {"condition": {"test": "round(datum.value*10)%2==0", "value": 10}, "value": 5}, "title": "UT, hour", "titleFontSize": 28}},
                 "y": {"field": "y", "type": "quantitative", "scale": {"domain": [-9, 9], "nice": false, "zero": false},
                       "axis": {"values": [-9,-4.5,0,4.5,9], "labelOverlap": false, "format": ".1f", "tickSize": 11, "title": "F(t), mHz", "titleX": 15, "titleY": 8}},
                 "detail": {"field": "s", "type": "nominal"},
                 "strokeWidth": {"condition": {"test": "datum.s == '161'", "value": 2.2}, "value": 1}}},
              {"data": {"values": [{"x": 15.235, "y": 6.71, "t": "MDO1; PRN 27"}]}, "mark": {"type": "text", "align": "left", "baseline": "middle", "fontWeight": "bold", "fontSize": 13},
               "encoding": {"x": {"field": "x", "type": "quantitative"}, "y": {"field": "y", "type": "quantitative"}, "text": {"field": "t"}}}
            ]
          }
        ]
      }
    ]
  }
],
"spacing": 61,
"bounds": "full"
}
